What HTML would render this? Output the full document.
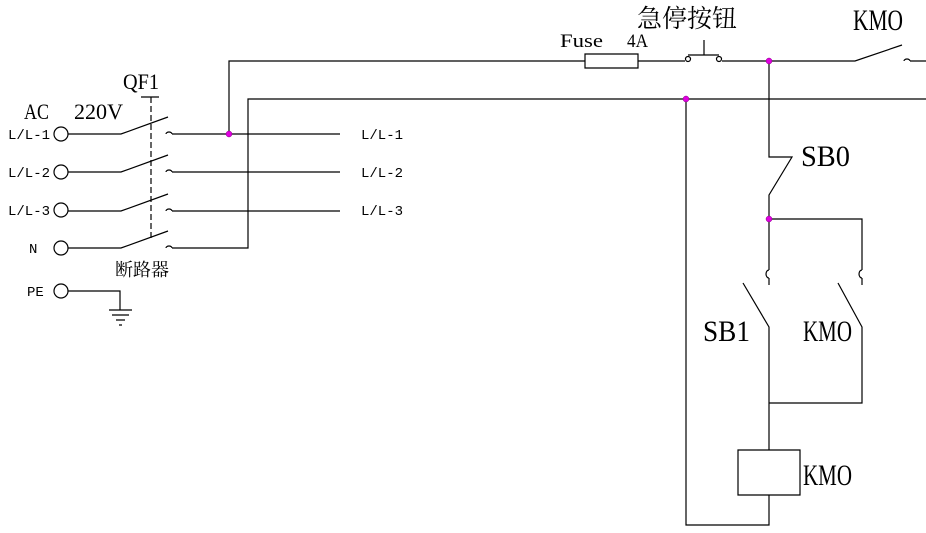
<!DOCTYPE html><html><head><style>body{margin:0;background:#fff}svg{display:block}</style></head><body>
<svg width="926" height="533" xmlns="http://www.w3.org/2000/svg" font-family="Liberation Serif, 'Noto Serif CJK SC', serif">
<g stroke="#000" stroke-width="1.2" fill="none">
<circle cx="61" cy="134" r="7"/><circle cx="61" cy="172" r="7"/><circle cx="61" cy="210" r="7"/><circle cx="61" cy="248" r="7"/><circle cx="61" cy="291" r="7"/>
<path d="M68 134H121L168 117M68 172H121L168 155M68 211H121L168 194M68 248H121L168 231"/>
<path d="M166 134a3 2 0 0 1 6 0M166 172a3 2 0 0 1 6 0M166 211a3 2 0 0 1 6 0M166 248a3 2 0 0 1 6 0"/>
<path d="M172 134H340M172 172H340M172 211H340M172 248H248V99H926"/>
<path d="M151 97V240" stroke-dasharray="6,3"/><path d="M141 97H159"/>
<path d="M68 291H120V310M109 310H132M112 315H129M116 320H125M119 325H122"/>
<path d="M229 134V61H585M585 54H638V68H585ZM638 61H685M722 61H855L902 45M904 61a3 2 0 0 1 6 0M910 61H926"/>
<circle cx="688" cy="59" r="2.5"/><circle cx="719" cy="59" r="2.5"/><path d="M688 55H719M704 55V40"/>
<path d="M686 99V525H769V495M738 450H800V495H738ZM769 450V403H862V327L838 283M769 403V327L743 283"/>
<path d="M769 61V157H792L769 195V270M769 270a3 4 0 0 0 0 8M769 278V285M769 219H862V270M862 270a3 4 0 0 0 0 8M862 278V285"/>
</g>
<g fill="#e000e0" stroke="#800080" stroke-width=".5"><circle cx="229" cy="134" r="3"/><circle cx="686" cy="99" r="3"/><circle cx="769" cy="61" r="3"/><circle cx="769" cy="219" r="3"/></g>
<g font-size="14" font-family="Liberation Mono, monospace" lengthAdjust="spacingAndGlyphs"><text x="8" y="139" textLength="42" lengthAdjust="spacingAndGlyphs">L/L-1</text><text x="8" y="177" textLength="42" lengthAdjust="spacingAndGlyphs">L/L-2</text><text x="8" y="215" textLength="42" lengthAdjust="spacingAndGlyphs">L/L-3</text><text x="29" y="253">N</text><text x="27" y="296">PE</text>
<text x="361" y="139" textLength="42" lengthAdjust="spacingAndGlyphs">L/L-1</text><text x="361" y="177" textLength="42" lengthAdjust="spacingAndGlyphs">L/L-2</text><text x="361" y="215" textLength="42" lengthAdjust="spacingAndGlyphs">L/L-3</text></g>
<g font-size="22"><text x="24" y="119" textLength="25" lengthAdjust="spacingAndGlyphs">AC</text><text x="74" y="119" textLength="49" lengthAdjust="spacingAndGlyphs">220V</text><text x="123" y="89" textLength="36" lengthAdjust="spacingAndGlyphs">QF1</text>
<text x="560" y="47" font-size="19" textLength="43" lengthAdjust="spacingAndGlyphs">Fuse</text><text x="627" y="47" font-size="19" textLength="21" lengthAdjust="spacingAndGlyphs">4A</text>
<g font-size="30"><text x="853" y="30" textLength="50" lengthAdjust="spacingAndGlyphs">KMO</text><text x="801" y="166" textLength="49" lengthAdjust="spacingAndGlyphs">SB0</text><text x="703" y="341" textLength="47" lengthAdjust="spacingAndGlyphs">SB1</text><text x="803" y="341" textLength="49" lengthAdjust="spacingAndGlyphs">KMO</text><text x="803" y="485" textLength="49" lengthAdjust="spacingAndGlyphs">KMO</text></g></g>
<text x="637" y="27" font-size="25" font-family="'Noto Serif CJK SC', serif">急停按钮</text>
<text x="115" y="276" font-size="18" font-family="'Noto Serif CJK SC', serif">断路器</text>
</svg></body></html>
